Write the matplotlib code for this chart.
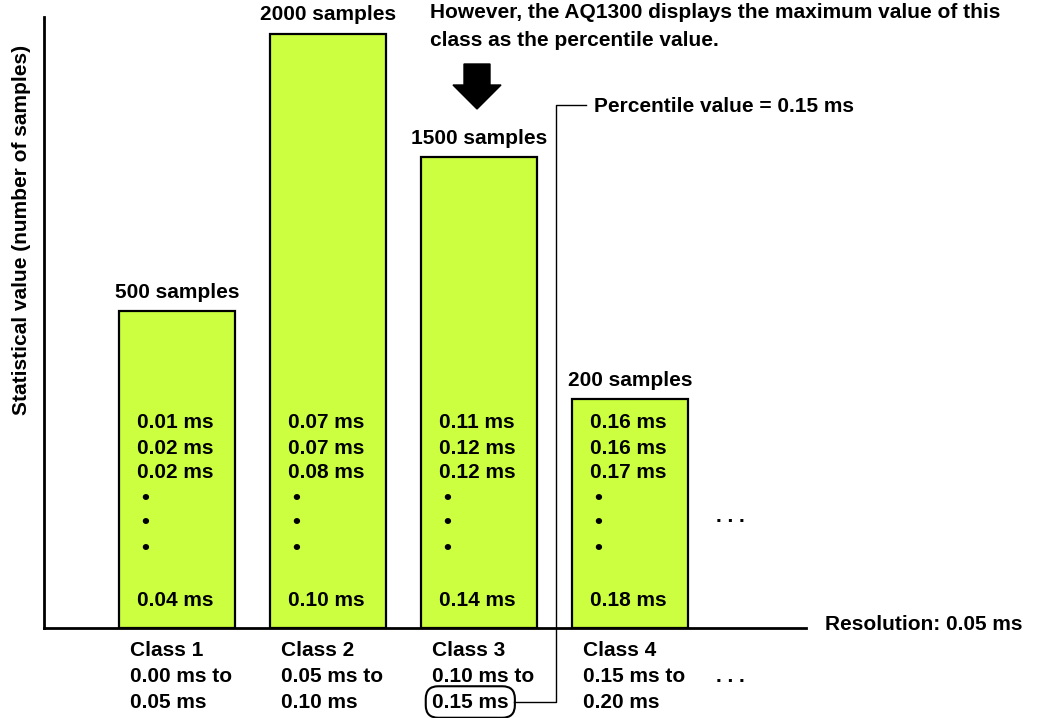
import matplotlib.pyplot as plt
from matplotlib.patches import FancyArrow
from matplotlib.lines import Line2D

plt.rcParams['font.family'] = ['Liberation Sans', 'DejaVu Sans']
plt.rcParams['font.weight'] = 'bold'

W, H = 1037, 718

# data (bar heights are schematic in pixels)
classes = ['Class 1', 'Class 2', 'Class 3', 'Class 4']
sample_labels = ['500 samples', '2000 samples', '1500 samples', '200 samples']
bar_heights = [317, 594, 471, 229]
first_values = [['0.01 ms', '0.02 ms', '0.02 ms'],
                ['0.07 ms', '0.07 ms', '0.08 ms'],
                ['0.11 ms', '0.12 ms', '0.12 ms'],
                ['0.16 ms', '0.16 ms', '0.17 ms']]
last_values = ['0.04 ms', '0.10 ms', '0.14 ms', '0.18 ms']
range_from = ['0.00 ms to', '0.05 ms to', '0.10 ms to', '0.15 ms to']
range_to = ['0.05 ms', '0.10 ms', '0.15 ms', '0.20 ms']
percentile_class = 2

bar_color = '#ccff40'
fs = 15

fig = plt.figure(figsize=(W / 100, H / 100), dpi=100)

# main axes, units: class index on x, pixels on y
x0, x1, y_base, y_top = 44, 806, 628, 17
pitch = 151
c0 = 177
ax = fig.add_axes([x0 / W, (H - y_base) / H, (x1 - x0) / W, (y_base - y_top) / H])
ax.set_xlim((x0 - c0) / pitch, (x1 - c0) / pitch)
ax.set_ylim(0, y_base - y_top)
for s in ['top', 'right']:
    ax.spines[s].set_visible(False)
for s in ['left', 'bottom']:
    ax.spines[s].set_linewidth(2)
ax.set_xticks([])
ax.set_yticks([])
ax.patch.set_alpha(0)

bw = 116 / pitch
xs = list(range(len(classes)))
ax.bar(xs, bar_heights, width=bw, color=bar_color, edgecolor='black', linewidth=1.6, zorder=2)

off = 18 / pitch
for i, h in enumerate(bar_heights):
    ax.text(i, h + 19, sample_labels[i], ha='center', va='center', fontsize=fs)
    left = i - bw / 2
    for k, v in enumerate(first_values[i]):
        ax.text(left + off, 205 - 25 * k, v, ha='left', va='center', fontsize=fs, zorder=3)
    for k in range(3):
        ax.text(left + off + 4 / pitch, 130 - 25 * k, '\u2022', ha='left', va='center', fontsize=fs + 1, zorder=3)
    ax.text(left + off, 27, last_values[i], ha='left', va='center', fontsize=fs, zorder=3)

# overlay axes in pixel coordinates for the annotations
ov = fig.add_axes([0, 0, 1, 1], zorder=5)
ov.set_xlim(0, W)
ov.set_ylim(H, 0)
ov.axis('off')
ov.patch.set_alpha(0)

ov.text(22, 230, 'Statistical value (number of samples)', rotation=90,
        ha='center', va='center', fontsize=fs)

for i in range(len(classes)):
    lx = c0 + pitch * i - 58 + 11
    ov.text(lx, 650, classes[i], ha='left', va='center', fontsize=fs)
    ov.text(lx, 676, range_from[i], ha='left', va='center', fontsize=fs)
    if i == percentile_class:
        ov.text(lx, 702, range_to[i], ha='left', va='center', fontsize=fs,
                bbox=dict(boxstyle='round,pad=0.3,rounding_size=0.6', fc='none', ec='black', lw=1.5))
    else:
        ov.text(lx, 702, range_to[i], ha='left', va='center', fontsize=fs)

ov.text(730, 516, '. . .', ha='center', va='center', fontsize=fs)
ov.text(730, 676, '. . .', ha='center', va='center', fontsize=fs)
ov.text(825, 625, 'Resolution: 0.05 ms', ha='left', va='center', fontsize=fs)

ov.text(430, 12, 'However, the AQ1300 displays the maximum value of this',
        ha='left', va='center', fontsize=fs)
ov.text(430, 40, 'class as the percentile value.', ha='left', va='center', fontsize=fs)

ov.add_patch(FancyArrow(477, 64, 0, 45, width=26, head_width=48, head_length=24,
                        length_includes_head=True, color='black'))

ov.add_line(Line2D([514, 556, 556, 586], [702, 702, 105, 105], color='black', lw=1))
ov.text(594, 106, 'Percentile value = 0.15 ms', ha='left', va='center', fontsize=fs)

fig.savefig('out.png', dpi=100)
